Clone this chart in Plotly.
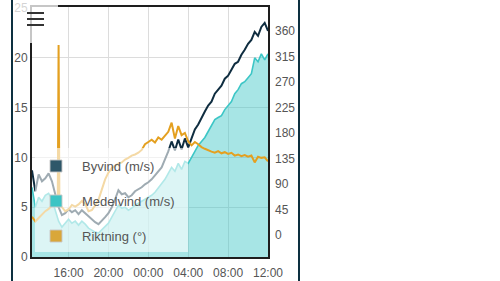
import pandas as pd
import plotly.graph_objects as go

# ---- data ----
times = pd.date_range("2024-01-01 12:20", periods=72, freq="20min")

byvind = [8.7, 6.6, 8.3, 7.6, 7.9, 8.4, 7.6, 6.4, 5.0, 4.2, 4.4, 4.8, 4.5, 4.7, 4.3, 4.7,
          4.4, 4.0, 3.8, 3.5, 3.3, 3.6, 4.0, 4.4, 5.0, 5.8, 6.7, 6.3, 6.4, 6.0, 6.2, 6.6,
          6.8, 7.0, 7.3, 7.5, 7.8, 8.2, 8.5, 9.0, 9.8, 10.6, 11.6, 10.7, 11.8, 10.8, 11.9, 11.0,
          11.9, 12.8, 13.3, 14.0, 14.6, 15.2, 15.6, 16.4, 16.8, 17.2, 17.9, 18.2, 18.8, 19.4,
          19.6, 20.3, 20.8, 21.4, 21.8, 22.6, 22.2, 23.1, 23.5, 22.7]

medelvind = [7.0, 5.0, 6.0, 5.6, 6.2, 6.4, 5.8, 4.8, 3.6, 3.0, 3.4, 3.8, 3.4, 3.6, 3.2, 3.6,
             3.3, 2.9, 2.7, 2.5, 2.4, 2.7, 3.0, 3.4, 4.0, 4.6, 5.2, 4.9, 5.0, 4.7, 4.9, 5.2,
             5.4, 5.6, 5.8, 6.0, 6.2, 6.5, 6.9, 7.3, 7.8, 8.4, 9.0, 8.6, 9.4, 8.8, 9.6, 9.4,
             10.0, 10.6, 11.2, 11.6, 12.0, 12.6, 13.2, 13.8, 14.0, 14.2, 14.8, 15.2, 15.6, 16.4,
             16.8, 17.4, 17.6, 18.0, 18.4, 20.0, 19.6, 20.4, 19.8, 20.4]

# wind direction has two extra readings around the short spike at 15:00
riktning_times = (list(times[:8])
                  + [pd.Timestamp("2024-01-01 14:55"), times[8], pd.Timestamp("2024-01-01 15:05")]
                  + list(times[9:]))
riktning = [32, 24, 30, 36, 42, 46, 52, 56, 58, 335, 52, 49, 42, 45, 53, 50, 54, 60,
            55, 42, 44, 52, 62, 80, 98, 110, 118, 122, 126, 128, 133, 136, 140, 142,
            145, 150, 160, 164, 168, 163, 172, 168, 175, 182, 198, 170, 192, 176, 180, 165,
            158, 164, 160, 155, 152, 149, 147, 145, 148, 144, 146, 143, 145, 140,
            142, 139, 141, 138, 140, 128, 138, 136, 137, 130]

names = ["Byvind (m/s)", "Medelvind (m/s)", "Riktning (°)"]
left_ticks = [0, 5, 10, 15, 20, 25]
right_ticks = [0, 45, 90, 135, 180, 225, 270, 315, 360]

C_BY = "#0f2d40"
C_ME = "#3cc6c6"
C_RI = "#e4a020"
FONT = "Liberation Sans, Arial, sans-serif"

fig = go.Figure()
fig.add_trace(go.Scatter(x=times, y=byvind, mode="lines", name=names[0],
                         line=dict(color=C_BY, width=2), hoverinfo="skip"))
fig.add_trace(go.Scatter(x=times, y=medelvind, mode="lines", name=names[1],
                         line=dict(color=C_ME, width=1.6), fill="tozeroy",
                         fillcolor="rgba(60,198,198,0.45)", hoverinfo="skip"))
fig.add_trace(go.Scatter(x=riktning_times, y=riktning, mode="lines", name=names[2], yaxis="y2",
                         line=dict(color=C_RI, width=2), hoverinfo="skip"))

# plot domain in pixels: x 32..268, y 7..257
PX0, PX1, PY0, PY1 = 32, 268, 7, 257
def px(x):
    return (x - PX0) / (PX1 - PX0)
def py(y):
    return (PY1 - y) / (PY1 - PY0)

shapes = []
# legend background
shapes.append(dict(type="rect", xref="paper", yref="paper", x0=px(35), x1=px(188),
                   y0=py(252), y1=py(148), fillcolor="rgba(255,255,255,0.6)",
                   line=dict(width=0), layer="above"))
leg_colors = ["#2e5769", "#3cc4c4", "#d9a73a"]
leg_y = [166, 201, 236]
annotations = []
for c, yc, nm in zip(leg_colors, leg_y, names):
    shapes.append(dict(type="rect", xref="paper", yref="paper", x0=px(50), x1=px(62),
                       y0=py(yc + 6), y1=py(yc - 6), fillcolor=c,
                       line=dict(color="rgba(200,200,200,0.9)", width=1), layer="above"))
    annotations.append(dict(x=px(80), y=py(yc), xref="paper", yref="paper", text=nm,
                            showarrow=False, xanchor="left", yanchor="middle",
                            font=dict(family=FONT, size=13, color="#555555")))
# menu button area
shapes.append(dict(type="rect", xref="paper", yref="paper", x0=px(13), x1=px(58),
                   y0=py(43), y1=py(-2), fillcolor="rgba(255,255,255,0.75)",
                   line=dict(width=0), layer="above"))
for yy in (13, 19, 25):
    shapes.append(dict(type="line", xref="paper", yref="paper", x0=px(27), x1=px(44),
                       y0=py(yy), y1=py(yy), line=dict(color="#333333", width=2), layer="above"))
# container borders
for xx in (12, 299):
    shapes.append(dict(type="line", xref="paper", yref="paper", x0=px(xx), x1=px(xx),
                       y0=py(290), y1=py(-10), line=dict(color="#0d3040", width=2), layer="above"))

fig.update_layout(
    width=500, height=281, autosize=False,
    margin=dict(l=PX0, r=500 - PX1, t=PY0, b=281 - PY1, pad=0, autoexpand=False),
    paper_bgcolor="white", plot_bgcolor="white",
    showlegend=False,
    font=dict(family=FONT, size=12, color="#666666"),
    xaxis=dict(type="date", range=[times[0], times[-1]], tickformat="%H:%M",
               tick0="2024-01-01 16:00", dtick=4 * 3600 * 1000,
               showgrid=True, gridcolor="#dcdcdc", gridwidth=1,
               showline=True, mirror=True, linecolor="#1e1e1e", linewidth=2,
               ticks="", zeroline=False, ticklabelstandoff=4, automargin=False,
               tickfont=dict(family=FONT, size=12, color="#555555")),
    yaxis=dict(range=[0, 25.1], tickvals=left_ticks,
               showgrid=True, gridcolor="#dcdcdc", gridwidth=1,
               showline=True, mirror=True, linecolor="#1e1e1e", linewidth=2,
               ticks="", zeroline=False, automargin=False,
               tickfont=dict(family=FONT, size=12, color="#555555")),
    yaxis2=dict(overlaying="y", side="right", range=[-38.8, 402], tickvals=right_ticks,
                showgrid=False, zeroline=False, showline=False, ticks="",
                ticklabelstandoff=6, automargin=False,
                tickfont=dict(family=FONT, size=12, color="#555555")),
    shapes=shapes,
    annotations=annotations,
)

fig.write_html("out.html", config=dict(displayModeBar=False, staticPlot=True))
